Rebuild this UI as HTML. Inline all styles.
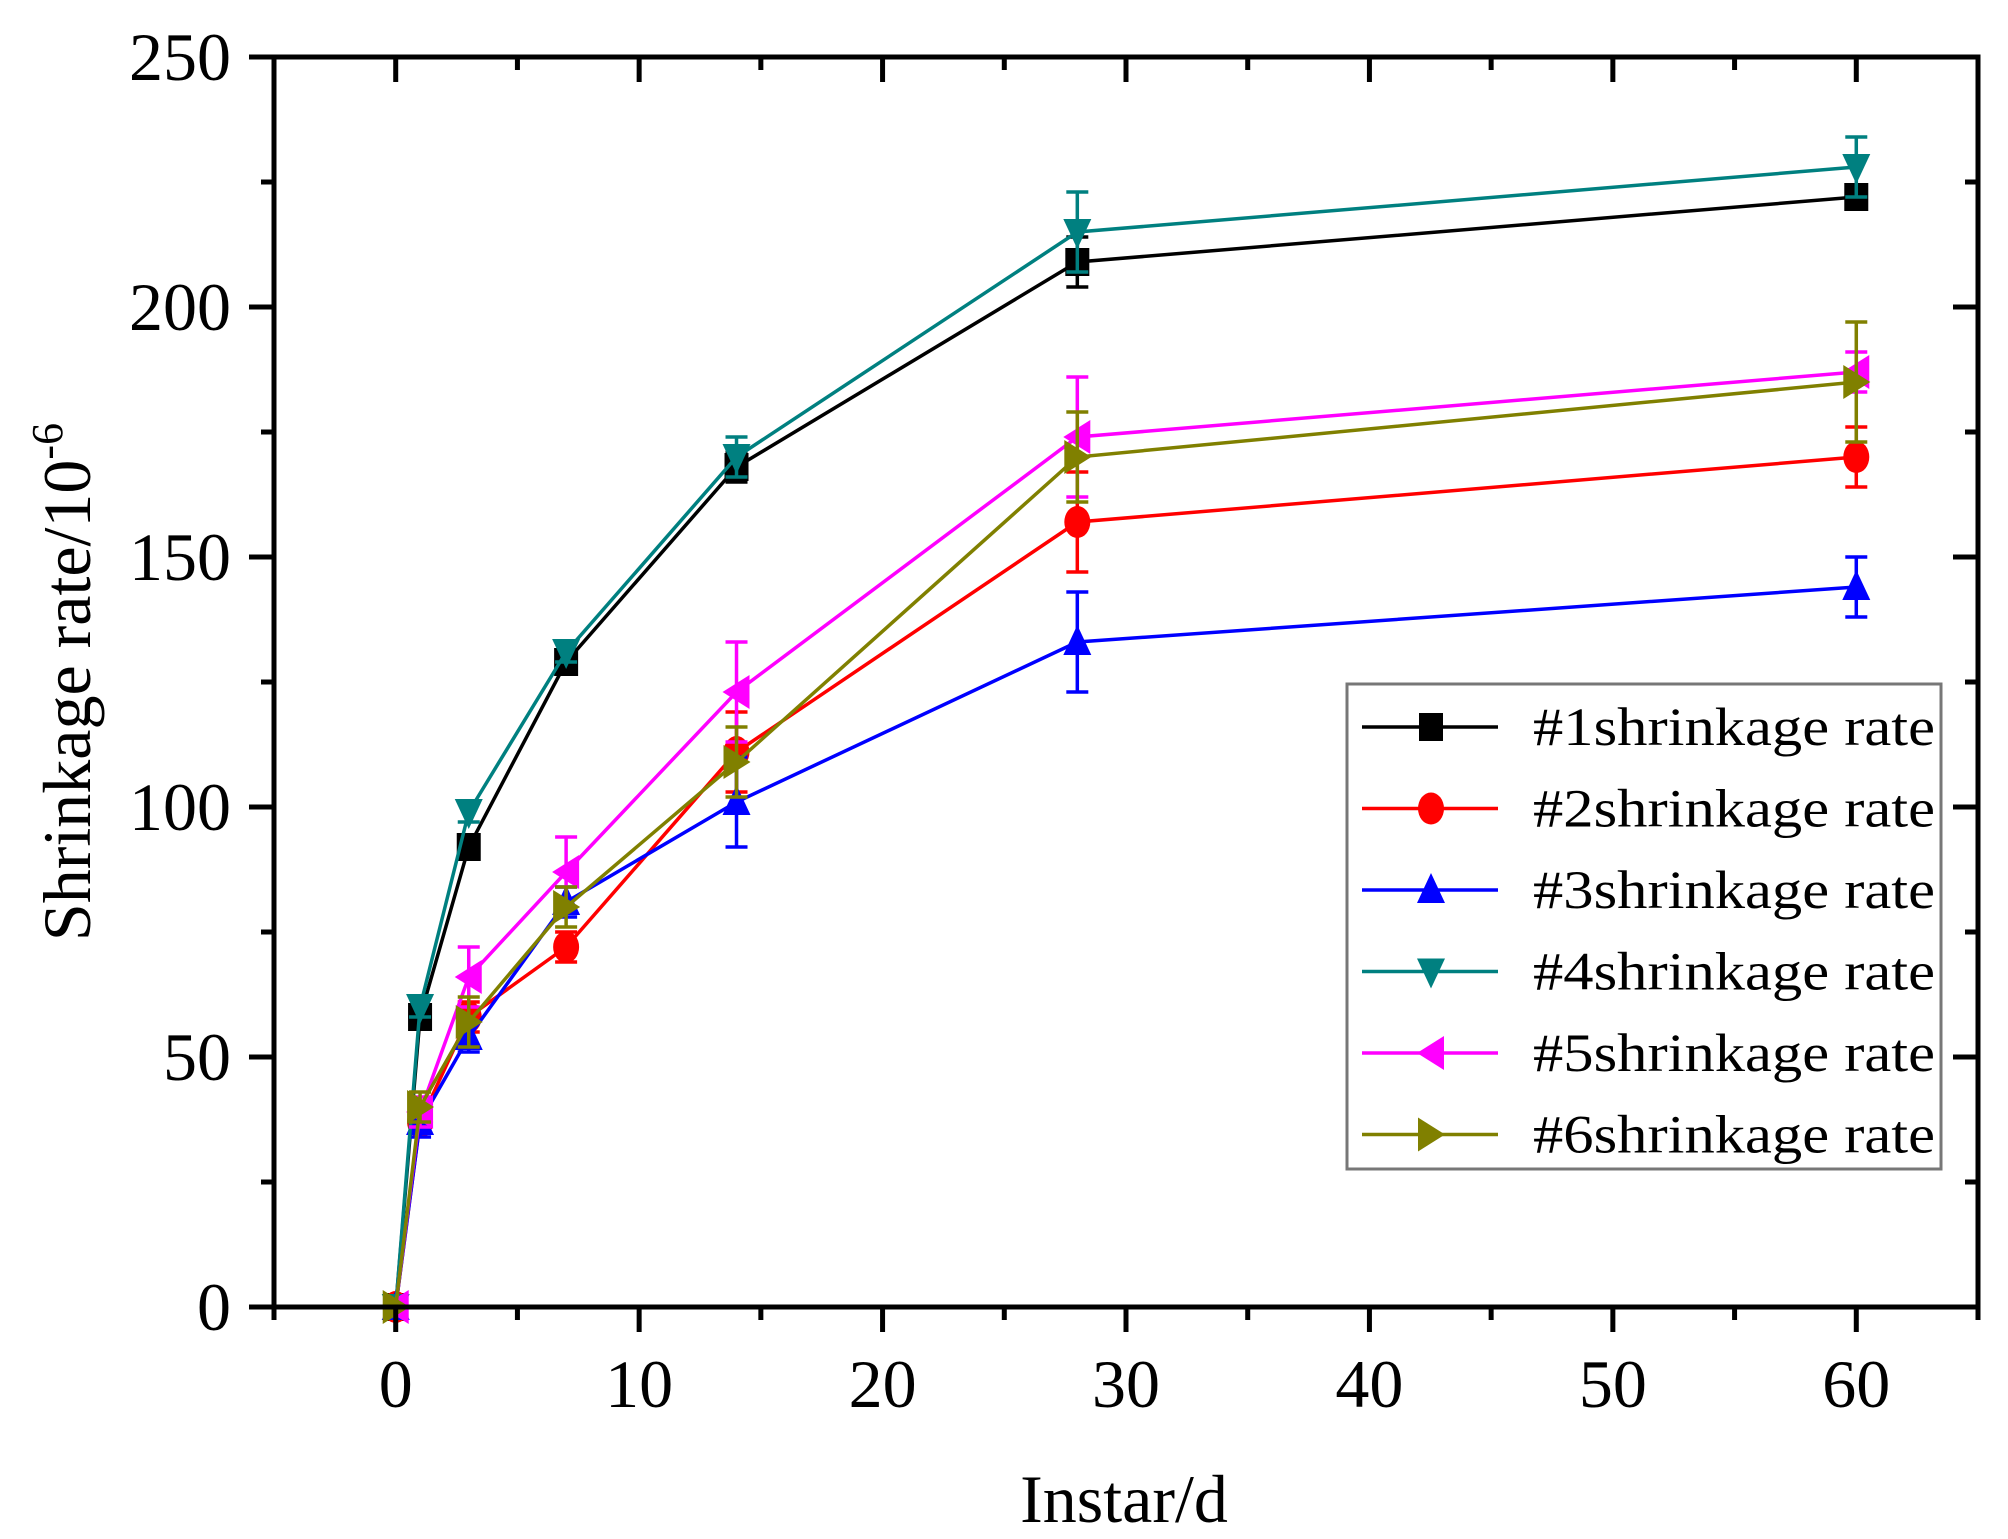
<!DOCTYPE html>
<html><head><meta charset="utf-8">
<style>
html,body{margin:0;padding:0;background:#fff;}
svg{display:block;font-family:"Liberation Serif","Times New Roman",serif;}
</style></head>
<body>
<svg id="chart" width="2008" height="1539" viewBox="0 0 2008 1539" xmlns="http://www.w3.org/2000/svg">
<g id="plot"></g>
</svg>
<script>
const xValues = [0, 1, 3, 7, 14, 28, 60];
const seriesNames = ["#1shrinkage rate","#2shrinkage rate","#3shrinkage rate","#4shrinkage rate","#5shrinkage rate","#6shrinkage rate"];
const s1 = [0, 58, 92, 129, 168, 209, 222];
const s2 = [0, 37, 58, 72, 111, 157, 170];
const s3 = [0, 37, 54, 81, 101, 133, 144];
const s4 = [0, 60, 99, 131, 170, 215, 228];
const s5 = [0, 39, 66, 87, 123, 174, 187];
const s6 = [0, 40, 57, 80, 109, 170, 185];
const e1 = [0, 2, 2, 2, 3, 5, 2];
const e2 = [0, 2, 3, 3, 8, 10, 6];
const e3 = [0, 3, 3, 3, 9, 10, 6];
const e4 = [0, 2, 2, 2, 4, 8, 6];
const e5 = [0, 3, 6, 7, 10, 12, 4];
const e6 = [0, 3, 5, 4, 7, 9, 12];
const xTicks = [0, 10, 20, 30, 40, 50, 60];
const yTicks = [0, 50, 100, 150, 200, 250];

const L=274,R=1978,T=57,B=1307, XMIN=-5,XMAX=65,YMIN=0,YMAX=250;
const xs=v=>L+(v-XMIN)/(XMAX-XMIN)*(R-L);
const ys=v=>B-(v-YMIN)/(YMAX-YMIN)*(B-T);
const NS="http://www.w3.org/2000/svg";
const svg=document.getElementById('chart');
function mk(tag,attrs,parent){const e=document.createElementNS(NS,tag);for(const k in attrs)e.setAttribute(k,attrs[k]);(parent||svg).appendChild(e);return e;}

const data=[s1,s2,s3,s4,s5,s6], errs=[e1,e2,e3,e4,e5,e6];
const colors=["#000000","#ff0000","#0000ff","#008080","#ff00ff","#808000"];
const shapes=["square","circle","up","down","left","right"];

function marker(shape,cx,cy,c,parent){
  const s=13; let el;
  if(shape==="square") el=mk('rect',{x:cx-s+1,y:cy-s-1,width:2*s-2,height:2*s+2,fill:c},parent);
  else if(shape==="circle") el=mk('ellipse',{cx:cx,cy:cy,rx:s,ry:s+3,fill:c},parent);
  else {
    let p;
    if(shape==="up") p=[[cx,cy-s-4],[cx-s-1,cy+s],[cx+s+1,cy+s]];
    if(shape==="down") p=[[cx,cy+s+4],[cx-s-1,cy-s],[cx+s+1,cy-s]];
    if(shape==="left") p=[[cx-s-1,cy],[cx+s,cy-s-4],[cx+s,cy+s+4]];
    if(shape==="right") p=[[cx+s+1,cy],[cx-s,cy-s-4],[cx-s,cy+s+4]];
    el=mk('polygon',{points:p.map(q=>q.join(',')).join(' '),fill:c},parent);
  }
  return el;
}

data.forEach((arr,i)=>{
  const g=mk('g',{});
  
  
  const line=mk('polyline',{points:arr.map((v,j)=>xs(xValues[j])+','+ys(v)).join(' '),fill:'none',stroke:colors[i],'stroke-width':3.5},g);
  
  
  arr.forEach((v,j)=>{
    const x=xs(xValues[j]), e=errs[i][j];
    if(e>0){
      const eb=mk('path',{d:`M${x},${ys(v+e)}V${ys(v-e)}M${x-11},${ys(v+e)}H${x+11}M${x-11},${ys(v-e)}H${x+11}`,stroke:colors[i],'stroke-width':3.5,fill:'none'},g);
      
      
    }
    const m=marker(shapes[i],x,ys(v),colors[i],g);
    
    
  });
});

const ax=mk('g',{});


const fr=mk('rect',{x:L,y:T,width:R-L,height:B-T,fill:'none',stroke:'#000','stroke-width':5},ax);


for(let v=XMIN;v<=XMAX;v+=5){
  const x=xs(v), major=(v%10===0);
  const len=major?25:13;
  const t=mk('path',{d:`M${x},${B}V${B+len}M${x},${T}V${T+len}`,stroke:'#000','stroke-width':5},ax);
  
  
}
xTicks.forEach(v=>{
  const t=mk('text',{x:xs(v),y:B+100,'font-size':68,'text-anchor':'middle',fill:'#000'},ax);
  t.textContent=v;
  
  
});
for(let v=0;v<=250;v+=25){
  const y=ys(v), major=(v%50===0);
  const len=major?25:13;
  const t=mk('path',{d:`M${L},${y}H${L-len}M${R},${y}H${R-len}`,stroke:'#000','stroke-width':5},ax);
  
  
}
yTicks.forEach(v=>{
  const t=mk('text',{x:L-43,y:ys(v)+23,'font-size':68,'text-anchor':'end',fill:'#000'},ax);
  t.textContent=v;
  
  
});
const xt=mk('text',{x:1124,y:1522,'font-size':68,'text-anchor':'middle',fill:'#000'},ax);
xt.textContent='Instar/d';


const yt=mk('text',{x:0,y:0,'font-size':68,'text-anchor':'middle',fill:'#000',transform:`translate(90,${(T+B)/2}) rotate(-90)`},ax);
yt.innerHTML='Shrinkage rate/10<tspan dy="-28" font-size="44">-6</tspan>';



const lg=mk('g',{});


mk('rect',{x:1347,y:684,width:594,height:485,fill:'#fff',stroke:'#777','stroke-width':3},lg);
seriesNames.forEach((n,i)=>{
  const y=727+i*81.5;
  const g=mk('g',{},lg);
  
  
  mk('line',{x1:1362,x2:1498,y1:y,y2:y,stroke:colors[i],'stroke-width':3.5},g);
  marker(shapes[i],1431,y,colors[i],g);
  const t=mk('text',{x:1533,y:y+18,'font-size':54,fill:'#000',textLength:402,lengthAdjust:'spacingAndGlyphs'},g);
  t.textContent=n;
});
</script>
</body></html>
